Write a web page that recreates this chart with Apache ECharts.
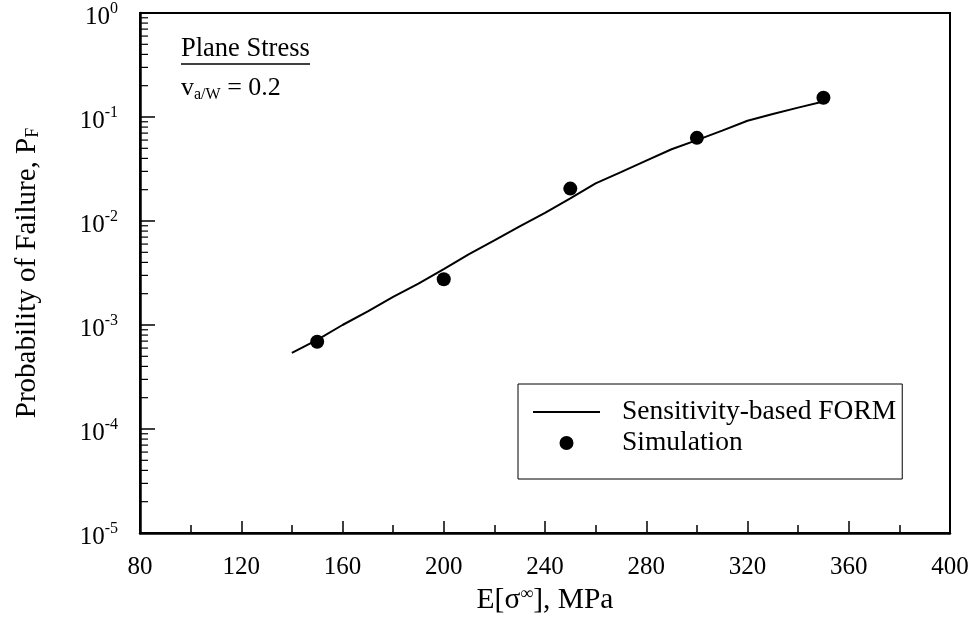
<!DOCTYPE html>
<html>
<head>
<meta charset="utf-8">
<script src="https://cdn.jsdelivr.net/npm/echarts@6/dist/echarts.min.js"></script>
<style>
  html, body { margin: 0; padding: 0; background: #fff; }
  #chart { width: 973px; height: 632px; }
</style>
</head>
<body>
<div id="chart"></div>
<script>
// data
const formStress = [140, 150, 160, 170, 180, 190, 200, 210, 220, 230, 240, 250, 260, 270, 280, 290, 300, 310, 320, 330, 340, 350];
const formPf = [5.4e-4, 7.2e-4, 1.0e-3, 1.35e-3, 1.86e-3, 2.5e-3, 3.45e-3, 4.8e-3, 6.5e-3, 8.9e-3, 1.2e-2, 1.65e-2,
  2.3e-2, 2.95e-2, 3.8e-2, 4.9e-2, 6.0e-2, 7.4e-2, 9.2e-2, 1.07e-1, 1.23e-1, 1.41e-1];
const simStress = [150, 200, 250, 300, 350];
const simPf = [6.9e-4, 2.75e-3, 2.05e-2, 6.3e-2, 1.53e-1];

// minor tick positions on the log axis (2..9 in each decade)
const yMinorTicks = [];
[1e-5, 1e-4, 1e-3, 1e-2, 1e-1].forEach(d => {
  for (let k = 2; k <= 9; k++) yMinorTicks.push(k * d);
});

const FONT = 'Liberation Serif';
const chart = echarts.init(document.getElementById('chart'));

const option = {
  backgroundColor: '#fff',
  animation: false,
  textStyle: { fontFamily: FONT, color: '#000' },
  grid: {
    left: 140, right: 23, top: 13, bottom: 99,
    show: true, borderColor: '#000', borderWidth: 2,
    containLabel: false, outerBoundsMode: 'none'
  },
  legend: {
    orient: 'vertical',
    left: 518, top: 384,
    data: [
      { name: 'Sensitivity-based FORM', icon: 'path://M0,0H67V2H0Z' },
      { name: 'Simulation', icon: 'circle' }
    ],
    borderColor: '#000', borderWidth: 1,
    padding: [14, 6, 22, 15],
    itemWidth: 67, itemHeight: 14, itemGap: 3,
    textStyle: { fontFamily: FONT, fontSize: 27.5, color: '#000', lineHeight: 26, padding: [0, 0, 0, 17] }
  },
  xAxis: {
    type: 'value', min: 80, max: 400, interval: 40,
    name: '{t|E[σ}{s|∞}{t|], MPa}',
    nameLocation: 'middle', nameGap: 48,
    nameTextStyle: {
      rich: {
        t: { fontFamily: FONT, fontSize: 29.5, color: '#000' },
        s: { fontFamily: FONT, fontSize: 18, color: '#000', padding: [0, 0, 12, 0] }
      }
    },
    axisLine: { lineStyle: { color: '#000', width: 2.5 } },
    axisTick: { inside: true, length: 12, lineStyle: { color: '#000', width: 1.5 } },
    minorTick: { show: true, splitNumber: 2, length: 8, lineStyle: { color: '#000', width: 1.5 } },
    axisLabel: { fontFamily: FONT, fontSize: 25, color: '#000', margin: 22 },
    splitLine: { show: false }
  },
  yAxis: {
    type: 'log', logBase: 10, min: 1e-5, max: 1,
    name: '{t|Probability of Failure, P}{s|F}',
    nameLocation: 'middle', nameRotate: 90, nameGap: 98,
    nameTextStyle: {
      rich: {
        t: { fontFamily: FONT, fontSize: 29, color: '#000' },
        s: { fontFamily: FONT, fontSize: 18, color: '#000', padding: [12, 0, 0, 0] }
      }
    },
    axisLine: { lineStyle: { color: '#000', width: 2.5 } },
    axisTick: { inside: true, length: 15, lineStyle: { color: '#000', width: 1.5 } },
    axisLabel: {
      margin: 22,
      formatter: v => '{b|10}{s|' + Math.round(Math.log10(v)) + '}',
      rich: {
        b: { fontFamily: FONT, fontSize: 25, color: '#000', padding: [8, 0, 0, 0] },
        s: { fontFamily: FONT, fontSize: 16, color: '#000', padding: [0, 0, 8, 0] }
      }
    },
    splitLine: { show: false }
  },
  graphic: [
    {
      type: 'text', left: 181, top: 36,
      style: { text: 'Plane Stress', font: '26.5px "Liberation Serif"', fill: '#000' }
    },
    {
      type: 'line', shape: { x1: 181, y1: 64, x2: 310, y2: 64 },
      style: { stroke: '#000', lineWidth: 1.5 }
    },
    {
      type: 'text', left: 181, top: 75,
      style: {
        text: '{v|v}{s|a/W}{v| = 0.2}',
        rich: {
          v: { fontFamily: FONT, fontSize: 26, fill: '#000' },
          s: { fontFamily: FONT, fontSize: 16, fill: '#000', padding: [14, 0, 0, 0] }
        }
      }
    }
  ],
  series: [
    {
      name: 'Sensitivity-based FORM',
      type: 'line',
      data: formStress.map((x, i) => [x, formPf[i]]),
      showSymbol: false, symbol: 'none',
      lineStyle: { color: '#000', width: 2 },
      itemStyle: { color: '#000' }
    },
    {
      name: 'Simulation',
      type: 'scatter',
      data: simStress.map((x, i) => [x, simPf[i]]),
      symbol: 'circle', symbolSize: 14,
      itemStyle: { color: '#000', opacity: 1 }
    },
    {
      name: 'minorTicks',
      type: 'custom',
      silent: true,
      clip: false,
      data: yMinorTicks.map(v => [80, v]),
      renderItem: (params, api) => {
        const p = api.coord([api.value(0), api.value(1)]);
        return {
          type: 'line',
          shape: { x1: p[0], y1: p[1], x2: p[0] + 8, y2: p[1] },
          style: { stroke: '#000', lineWidth: 1.2 }
        };
      }
    }
  ]
};

chart.setOption(option);
</script>
</body>
</html>
